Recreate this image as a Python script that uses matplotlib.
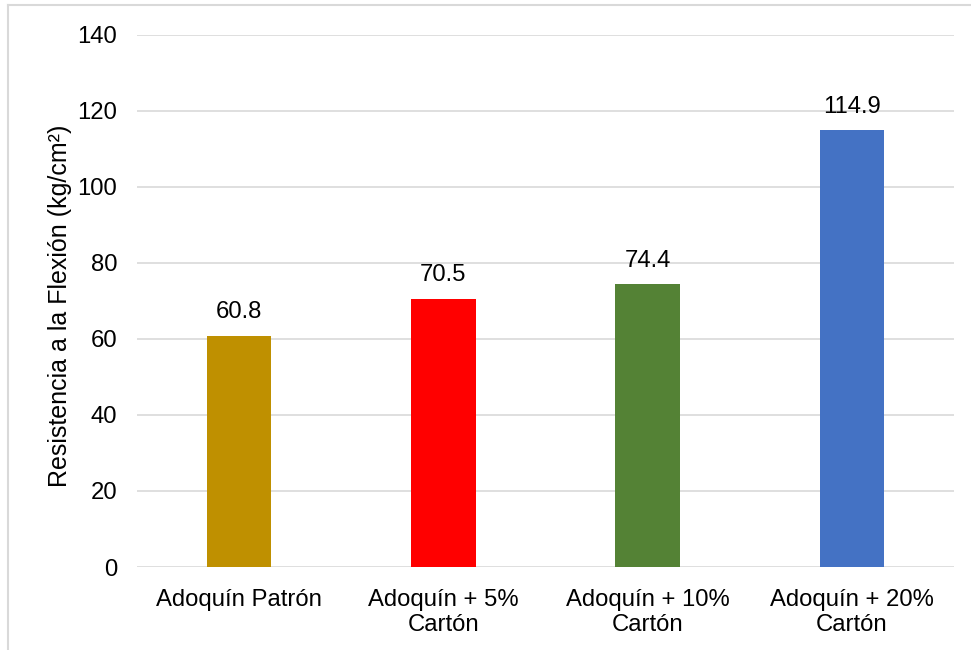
import matplotlib.pyplot as plt
from matplotlib.lines import Line2D

plt.rcParams['font.family'] = ['Liberation Sans', 'DejaVu Sans']

# data
categories = ["Adoquín Patrón", "Adoquín + 5%\nCartón", "Adoquín + 10%\nCartón", "Adoquín + 20%\nCartón"]
values = [60.8, 70.5, 74.4, 114.9]
colors = ["#BF9000", "#FF0000", "#548235", "#4472C4"]
yticks = [0, 20, 40, 60, 80, 100, 120, 140]

fig = plt.figure(figsize=(9.71, 6.5), dpi=100)
ax = fig.add_axes([137 / 971, 1 - 567 / 650, (954 - 137) / 971, (567 - 34.7) / 650])

x = range(len(categories))
bars = ax.bar(x, values, width=0.315, color=colors, zorder=3)

for b, v in zip(bars, values):
    ax.annotate(f"{v:.1f}", (b.get_x() + b.get_width() / 2, v),
                xytext=(0, 9), textcoords="offset points",
                ha="center", va="bottom", fontsize=17.2, color="#000000")

ax.set_xlim(-0.5, len(categories) - 0.5)
ax.set_ylim(0, 140)
ax.set_yticks(yticks)
ax.set_xticks(list(x))
ax.set_xticklabels(categories, fontsize=17.2, linespacing=1.19)
ax.tick_params(axis="y", labelsize=17.2, length=0, pad=14.4)
ax.tick_params(axis="x", length=0, pad=15.5)
ax.grid(axis="y", color="#D9D9D9", linewidth=1.2, zorder=0)
for s in ax.spines.values():
    s.set_visible(False)

ax.set_ylabel("Resistencia a la Flexión (kg/cm²)", fontsize=18)
ax.yaxis.set_label_coords(-0.080, 0.49)

# outer chart border (left and top edges visible)
fig.add_artist(Line2D([7.5 / 971, 7.5 / 971], [0, 1 - 5 / 650], transform=fig.transFigure,
                      color="#D9D9D9", linewidth=1.5))
fig.add_artist(Line2D([7.5 / 971, 1], [1 - 5 / 650, 1 - 5 / 650], transform=fig.transFigure,
                      color="#D9D9D9", linewidth=1.5))

fig.savefig("out.png", dpi=100)
